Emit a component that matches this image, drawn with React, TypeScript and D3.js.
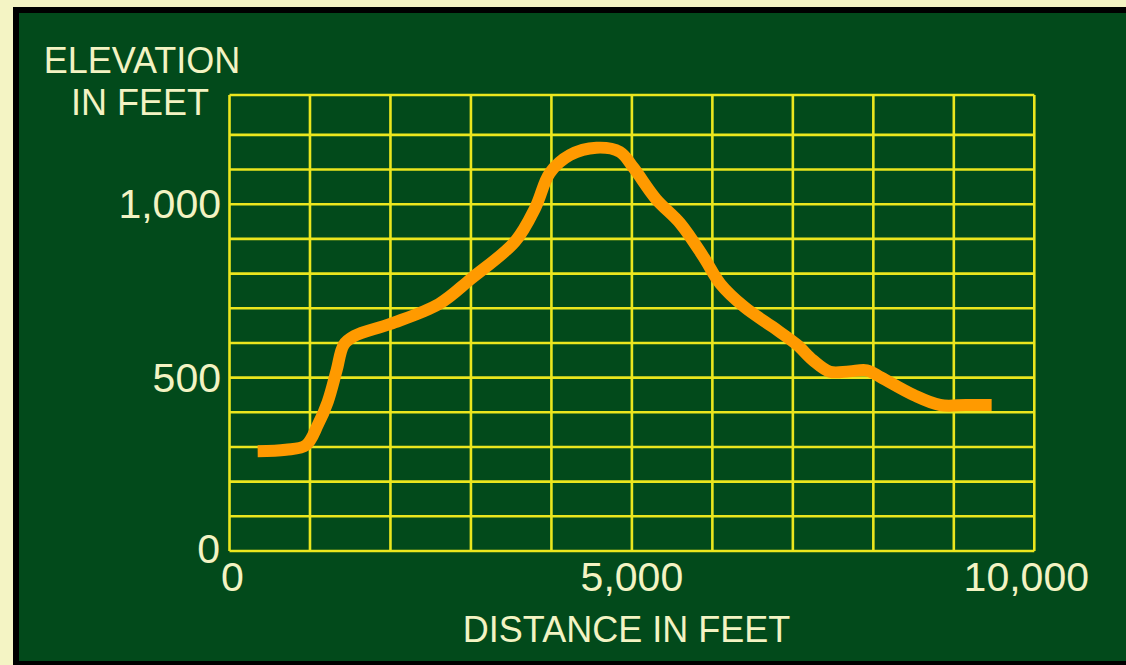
import React from "react";
import * as d3 from "d3";

const distance = [350, 700, 950, 1100, 1220, 1330, 1420, 1550, 2000, 2600, 3000, 3550, 3800, 3980, 4230, 4560, 4850, 5020, 5300, 5600, 5890, 6100, 6400, 6750, 7050, 7250, 7460, 7700, 7920, 8100, 8500, 8830, 9150, 9470];
const elevation = [288, 292, 305, 365, 430, 520, 595, 620, 655, 712, 785, 893, 990, 1090, 1142, 1163, 1151, 1105, 1015, 945, 848, 770, 703, 646, 595, 550, 517, 518, 521, 500, 450, 421, 421, 421];

const xGridValues = d3.range(0, 10001, 1000);
const yGridValues = d3.range(0, 1201, 100);
const xTickLabels = [
  { v: 0, label: "0", dx: 3 },
  { v: 5000, label: "5,000", dx: 0 },
  { v: 10000, label: "10,000", dx: -8 },
];
const yTickLabels = [
  { v: 1000, label: "1,000" },
  { v: 500, label: "500" },
  { v: 0, label: "0" },
];

const W = 1126;
const H = 665;
const TEXT = "#f3f3c3";
const GRID = "#ebe61e";
const FONT = "'Liberation Sans', Arial, sans-serif";

export default function App() {
  const x = d3.scaleLinear().domain([0, 10000]).range([229.5, 1034.3]);
  const y = d3.scaleLinear().domain([0, 1315]).range([551, 95]);
  const pts: [number, number][] = distance.map((d, i) => [d, elevation[i]]);
  const line = d3
    .line<[number, number]>()
    .x((d) => x(d[0]))
    .y((d) => y(d[1]))
    .curve(d3.curveCatmullRom.alpha(0.5));

  return (
    <svg
      width={W}
      height={H}
      style={{ position: "absolute", left: 0, top: 0, display: "block" }}
    >
      <rect x={0} y={0} width={W} height={H} fill="#f4f4c4" />
      <rect x={13} y={7} width={W + 20} height={658} fill="#000" />
      <rect x={19} y={13} width={W + 20} height={648} fill="#024a1b" />

      {/* grid */}
      {yGridValues.map((v) => (
        <line
          key={"h" + v}
          x1={x(0)}
          x2={x(10000)}
          y1={y(v)}
          y2={y(v)}
          stroke={GRID}
          strokeWidth={2.6}
        />
      ))}
      {xGridValues.map((v) => (
        <line
          key={"v" + v}
          x1={x(v)}
          x2={x(v)}
          y1={y(0)}
          y2={y(1315)}
          stroke={GRID}
          strokeWidth={2.6}
        />
      ))}
      <line x1={x(0)} x2={x(10000)} y1={y(1315)} y2={y(1315)} stroke={GRID} strokeWidth={2.6} />

      {/* profile line */}
      <path
        d={line(pts) || ""}
        fill="none"
        stroke="#ff9a00"
        strokeWidth={12}
        strokeLinecap="butt"
        strokeLinejoin="round"
      />

      {/* y tick labels */}
      {yTickLabels.map((t) => (
        <text
          key={"yl" + t.v}
          x={t.v === 0 ? 220 : 221}
          y={t.v === 0 ? y(0) + 12 : y(t.v) + 14}
          textAnchor="end"
          fontFamily={FONT}
          fontSize={41}
          fill={TEXT}
        >
          {t.label}
        </text>
      ))}

      {/* x tick labels */}
      {xTickLabels.map((t) => (
        <text
          key={"xl" + t.v}
          x={x(t.v) + t.dx}
          y={591}
          textAnchor="middle"
          fontFamily={FONT}
          fontSize={41}
          fill={TEXT}
        >
          {t.label}
        </text>
      ))}

      {/* axis titles */}
      <text x={142} y={73} textAnchor="middle" fontFamily={FONT} fontSize={36} fill={TEXT}>
        ELEVATION
      </text>
      <text x={140} y={115} textAnchor="middle" fontFamily={FONT} fontSize={36} fill={TEXT}>
        IN FEET
      </text>
      <text x={626.5} y={642} textAnchor="middle" fontFamily={FONT} fontSize={36} fill={TEXT}>
        DISTANCE IN FEET
      </text>
    </svg>
  );
}
